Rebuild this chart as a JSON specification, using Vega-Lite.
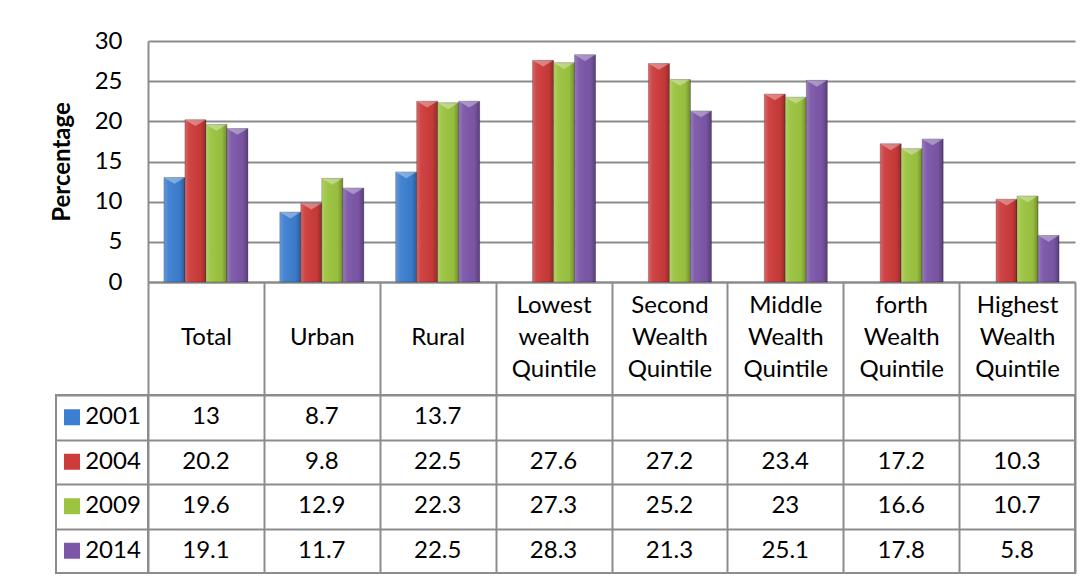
{
  "$schema": "https://vega.github.io/schema/vega-lite/v6.json",
  "background": "white",
  "padding": {"left": 50, "top": 29, "right": 10, "bottom": 0},
  "config": {
    "font": "Lato",
    "view": {"stroke": null},
    "axis": {
      "labelFont": "Lato",
      "labelFontSize": 24,
      "labelColor": "#000000",
      "titleFont": "Lato",
      "titleColor": "#000000",
      "gridColor": "#8c8c8c",
      "gridWidth": 2,
      "domainColor": "#8c8c8c",
      "domainWidth": 2,
      "tickColor": "#8c8c8c",
      "tickWidth": 2
    }
  },
  "datasets": {
    "poverty": [
      {"category": "Total", "year": "2001", "value": 13},
      {"category": "Urban", "year": "2001", "value": 8.7},
      {"category": "Rural", "year": "2001", "value": 13.7},
      {"category": "Total", "year": "2004", "value": 20.2},
      {"category": "Urban", "year": "2004", "value": 9.8},
      {"category": "Rural", "year": "2004", "value": 22.5},
      {"category": "Lowest wealth Quintile", "year": "2004", "value": 27.6},
      {"category": "Second Wealth Quintile", "year": "2004", "value": 27.2},
      {"category": "Middle Wealth Quintile", "year": "2004", "value": 23.4},
      {"category": "forth Wealth Quintile", "year": "2004", "value": 17.2},
      {"category": "Highest Wealth Quintile", "year": "2004", "value": 10.3},
      {"category": "Total", "year": "2009", "value": 19.6},
      {"category": "Urban", "year": "2009", "value": 12.9},
      {"category": "Rural", "year": "2009", "value": 22.3},
      {"category": "Lowest wealth Quintile", "year": "2009", "value": 27.3},
      {"category": "Second Wealth Quintile", "year": "2009", "value": 25.2},
      {"category": "Middle Wealth Quintile", "year": "2009", "value": 23},
      {"category": "forth Wealth Quintile", "year": "2009", "value": 16.6},
      {"category": "Highest Wealth Quintile", "year": "2009", "value": 10.7},
      {"category": "Total", "year": "2014", "value": 19.1},
      {"category": "Urban", "year": "2014", "value": 11.7},
      {"category": "Rural", "year": "2014", "value": 22.5},
      {"category": "Lowest wealth Quintile", "year": "2014", "value": 28.3},
      {"category": "Second Wealth Quintile", "year": "2014", "value": 21.3},
      {"category": "Middle Wealth Quintile", "year": "2014", "value": 25.1},
      {"category": "forth Wealth Quintile", "year": "2014", "value": 17.8},
      {"category": "Highest Wealth Quintile", "year": "2014", "value": 5.8}
    ]
  },
  "columns": 2,
  "bounds": "flush",
  "align": "each",
  "spacing": {"row": 113, "column": 0},
  "concat": [
    {
      "width": 92,
      "height": 241,
      "data": {"values": [{}]},
      "mark": {"type": "text", "text": " "}
    },
    {
      "width": 927,
      "height": 241,
      "data": {"name": "poverty"},
      "encoding": {
        "x": {
          "field": "category",
          "type": "nominal",
          "title": null,
          "scale": {
            "domain": ["Total", "Urban", "Rural", "Lowest wealth Quintile", "Second Wealth Quintile", "Middle Wealth Quintile", "forth Wealth Quintile", "Highest Wealth Quintile"],
            "paddingInner": 0,
            "paddingOuter": 0
          },
          "axis": {
            "tickBand": "extent",
            "tickSize": 113,
            "labelAngle": 0,
            "labelPadding": -102,
            "labelLineHeight": 32,
            "labelBaseline": "top",
            "labelLimit": 0,
            "labelExpr": "length(split(datum.label, ' ')) > 1 ? split(datum.label, ' ') : ['', datum.label, '']"
          }
        },
        "xOffset": {
          "field": "year",
          "type": "nominal",
          "scale": {"domain": ["2001", "2004", "2009", "2014"], "paddingInner": 0, "paddingOuter": 0.76}
        },
        "y": {
          "field": "value",
          "type": "quantitative",
          "title": "Percentage",
          "scale": {"domain": [0, 30]},
          "axis": {
            "values": [0, 5, 10, 15, 20, 25, 30],
            "grid": true,
            "ticks": false,
            "labelPadding": 26,
            "titleFontSize": 24,
            "titleFontWeight": "bold",
            "titlePadding": 20
          }
        }
      },
      "layer": [
        {
          "mark": {"type": "bar", "stroke": "#00000040", "strokeWidth": 1},
          "encoding": {
            "color": {
              "field": "year",
              "type": "nominal",
              "scale": {"domain": ["2001", "2004", "2009", "2014"], "range": ["#3c7fd0", "#cd3b3b", "#9cc440", "#7c57a8"]},
              "legend": null
            }
          }
        },
        {
          "mark": {
            "type": "bar",
            "fill": {
              "gradient": "linear",
              "x1": 0, "x2": 1, "y1": 0, "y2": 0,
              "stops": [
                {"offset": 0, "color": "rgba(255,255,255,0.22)"},
                {"offset": 0.2, "color": "rgba(255,255,255,0.05)"},
                {"offset": 0.75, "color": "rgba(0,0,0,0.03)"},
                {"offset": 1, "color": "rgba(0,0,0,0.28)"}
              ]
            }
          }
        },
        {
          "mark": {
            "type": "point",
            "shape": "M-1,0L1,0L0,0.6Z",
            "size": 441,
            "filled": true,
            "fill": "white",
            "opacity": 0.35,
            "strokeWidth": 0
          }
        }
      ]
    },
    {
      "width": 92,
      "height": 178,
      "view": {"stroke": "#8c8c8c", "strokeWidth": 2},
      "data": {"name": "poverty"},
      "transform": [{"filter": "datum.category === 'Total'"}],
      "encoding": {
        "y": {
          "field": "year",
          "type": "nominal",
          "title": null,
          "scale": {"domain": ["2001", "2004", "2009", "2014"], "paddingInner": 0, "paddingOuter": 0},
          "axis": {"grid": true, "tickBand": "extent", "labels": false, "ticks": false, "domain": false}
        }
      },
      "layer": [
        {
          "mark": {"type": "point", "shape": "square", "filled": true, "size": 256, "opacity": 1},
          "encoding": {
            "x": {
              "datum": "swatch",
              "type": "nominal",
              "scale": {"type": "point", "domain": ["swatch", "year"], "padding": 0.622, "align": 0.314},
              "axis": null
            },
            "color": {
              "field": "year",
              "type": "nominal",
              "scale": {"domain": ["2001", "2004", "2009", "2014"], "range": ["#3c7fd0", "#cd3b3b", "#9cc440", "#7c57a8"]},
              "legend": null
            }
          }
        },
        {
          "mark": {"type": "text", "fontSize": 24, "color": "#000000"},
          "encoding": {
            "x": {"datum": "year", "type": "nominal"},
            "text": {"field": "year", "type": "nominal"}
          }
        }
      ]
    },
    {
      "width": 927,
      "height": 178,
      "view": {"stroke": "#8c8c8c", "strokeWidth": 2},
      "data": {"name": "poverty"},
      "mark": {"type": "text", "fontSize": 24, "color": "#000000"},
      "encoding": {
        "x": {
          "field": "category",
          "type": "nominal",
          "title": null,
          "scale": {
            "domain": ["Total", "Urban", "Rural", "Lowest wealth Quintile", "Second Wealth Quintile", "Middle Wealth Quintile", "forth Wealth Quintile", "Highest Wealth Quintile"],
            "paddingInner": 0,
            "paddingOuter": 0
          },
          "axis": {"grid": true, "tickBand": "extent", "labels": false, "ticks": false, "domain": false}
        },
        "y": {
          "field": "year",
          "type": "nominal",
          "title": null,
          "scale": {"domain": ["2001", "2004", "2009", "2014"], "paddingInner": 0, "paddingOuter": 0},
          "axis": {"grid": true, "tickBand": "extent", "labels": false, "ticks": false, "domain": false}
        },
        "text": {"field": "value", "type": "quantitative", "format": ""}
      }
    }
  ]
}
